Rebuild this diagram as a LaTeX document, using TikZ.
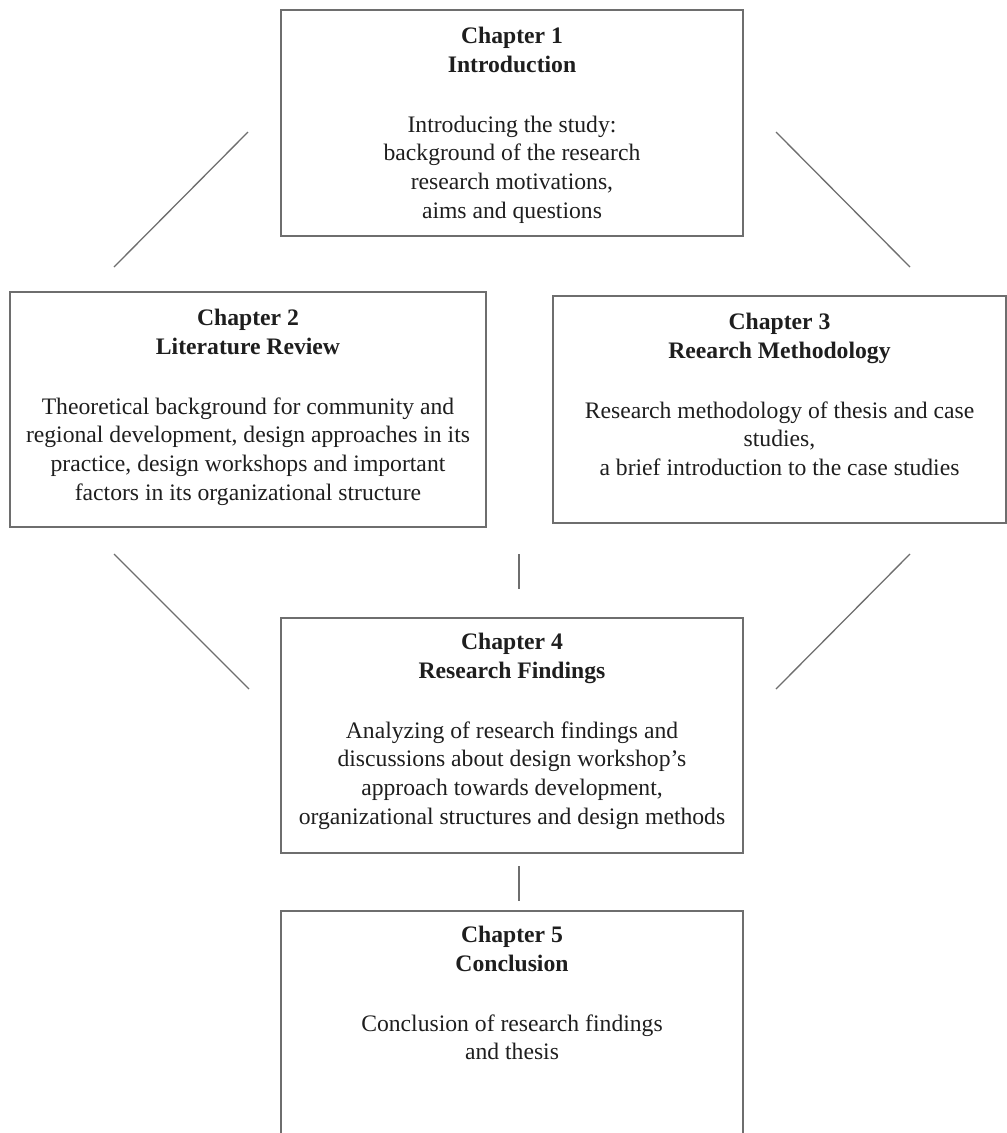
\documentclass[tikz,border=0pt]{standalone}
\usepackage{fontspec}
\setmainfont{Liberation Serif}
\usetikzlibrary{calc}
\definecolor{edge}{HTML}{6E6E6E}
\definecolor{ink}{HTML}{1E1E1E}
\begin{document}
\begin{tikzpicture}[x=1pt,y=-1pt,
  chapbox/.style={draw=edge,line width=1.4pt,inner sep=0pt,rectangle},
  chaptext/.style={anchor=north,align=center,inner sep=0pt,text=ink,
    font=\fontsize{23.65pt}{28.7pt}\selectfont},
  link/.style={draw=edge,line width=1.3pt}]
\useasboundingbox (0,0) rectangle (1007,1133);
\clip (0,0) rectangle (1007,1133);

% chapter boxes
\node[chapbox,minimum width=462pt,minimum height=226pt] (c1) at (512,123) {};
\node[chapbox,minimum width=476pt,minimum height=235pt] (c2) at (248,409.5) {};
\node[chapbox,minimum width=453pt,minimum height=227pt] (c3) at (779.5,409.5) {};
\node[chapbox,minimum width=462pt,minimum height=235pt] (c4) at (512,735.5) {};
\node[chapbox,minimum width=462pt,minimum height=240pt] (c5) at (512,1031) {};

% chapter texts
\node[chaptext] (t1) at ($(c1.north)+(0,18)$)
  {\textbf{Chapter 1}\\\textbf{Introduction}\\[30.9pt]Introducing the study:\\background of the research\\research motivations,\\aims and questions};
\node[chaptext] (t2) at ($(c2.north)+(0,18)$)
  {\textbf{Chapter 2}\\\textbf{Literature Review}\\[30.9pt]Theoretical background for community and\\regional development, design approaches in its\\practice, design workshops and important\\factors in its organizational structure};
\node[chaptext] (t3) at ($(c3.north)+(0,18)$)
  {\textbf{Chapter 3}\\\textbf{Reearch Methodology}\\[30.9pt]Research methodology of thesis and case\\studies,\\a brief introduction to the case studies};
\node[chaptext] (t4) at ($(c4.north)+(0,16)$)
  {\textbf{Chapter 4}\\\textbf{Research Findings}\\[30.9pt]Analyzing of research findings and\\discussions about design workshop’s\\approach towards development,\\organizational structures and design methods};
\node[chaptext] (t5) at ($(c5.north)+(0,16)$)
  {\textbf{Chapter 5}\\\textbf{Conclusion}\\[30.9pt]Conclusion of research findings\\and thesis};

% free-standing connector ends
\coordinate (a1) at (248,132);  \coordinate (a2) at (114,267);
\coordinate (b1) at (776,132);  \coordinate (b2) at (910,267);
\coordinate (d1) at (114,554);  \coordinate (d2) at (249,689);
\coordinate (e1) at (910,554);  \coordinate (e2) at (776,689);
\coordinate (v1) at (519,554);  \coordinate (v2) at (519,589);
\coordinate (w1) at (519,866);  \coordinate (w2) at (519,901);

\path[link] (a1) -- (a2);
\path[link] (b1) -- (b2);
\path[link] (d1) -- (d2);
\path[link] (e1) -- (e2);
\path[link] (v1) -- (v2);
\path[link] (w1) -- (w2);
\end{tikzpicture}
\end{document}
